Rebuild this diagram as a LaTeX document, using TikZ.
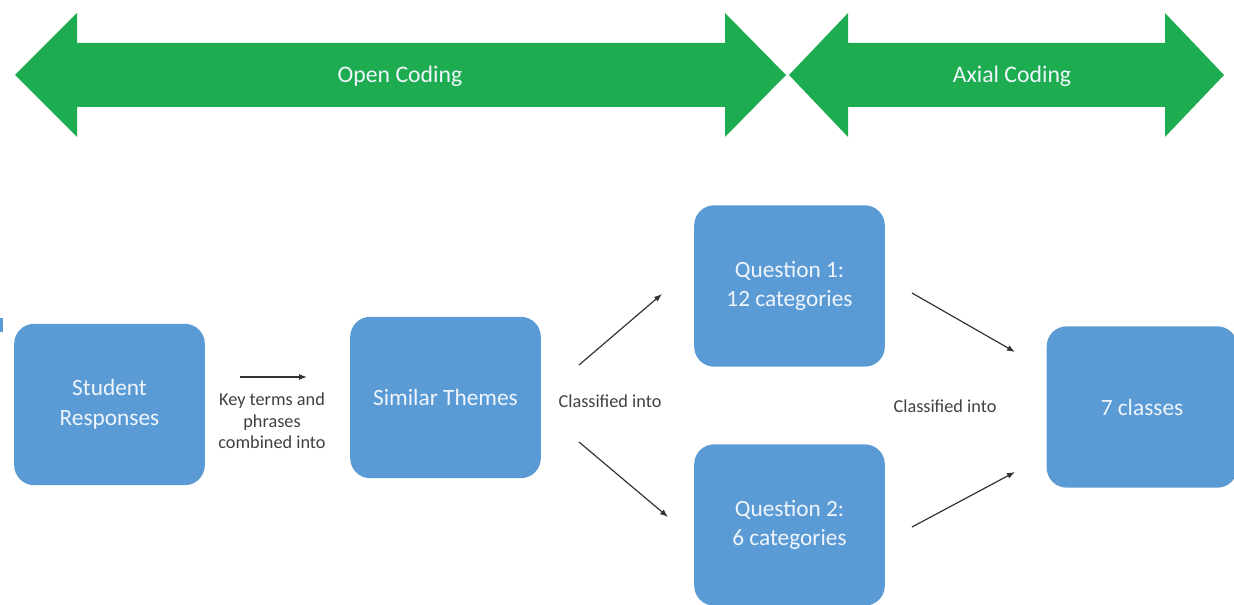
\documentclass[tikz,border=0pt]{standalone}
\usepackage{fontspec}
\setmainfont{Carlito}
\usetikzlibrary{arrows.meta}
\definecolor{codegreen}{RGB}{29,173,80}
\definecolor{boxblue}{RGB}{91,155,213}
\definecolor{labelgray}{RGB}{64,64,64}
\definecolor{boxtext}{RGB}{240,245,252}
\begin{document}
\begin{tikzpicture}[x=0.75pt,y=-0.75pt,
  stagebox/.style={fill=boxblue, draw=none, rounded corners=15pt,
    minimum width=143pt, minimum height=121pt, text=boxtext,
    font=\fontsize{17.5}{22}\selectfont, align=center, inner sep=0pt},
  steplabel/.style={text=labelgray, font=\fontsize{13.7}{16}\selectfont, align=center},
  phaselabel/.style={text=boxtext, font=\fontsize{17.8}{20}\selectfont},
  flow/.style={draw=black!80, line width=0.9pt, -{Latex[length=6pt,width=4.5pt]}}]
\useasboundingbox (0,0) rectangle (1234,605);

% coding phases
\fill[codegreen] (15,75) -- (77,13) -- (77,43) -- (725,43) -- (725,13) -- (786,75)
  -- (725,137) -- (725,107) -- (77,107) -- (77,137) -- cycle;
\fill[codegreen] (789,75) -- (848,13) -- (848,43) -- (1165,43) -- (1165,13) -- (1224,75)
  -- (1165,137) -- (1165,107) -- (848,107) -- (848,137) -- cycle;
\node[phaselabel] (open) at (400,76) {Open Coding};
\node[phaselabel] (axial) at (1012,76) {Axial Coding};

% left edge mark
\fill[boxblue] (0,318) rectangle (3,332);

% stages
\node[stagebox] (sr) at (109.5,404.5) {\strut Student\\\strut Responses};
\node[stagebox] (st) at (445.5,397.5) {Similar Themes};
\node[stagebox] (q1) at (789.5,286) {\strut Question 1:\\\strut 12 categories};
\node[stagebox] (q2) at (789.5,525) {\strut Question 2:\\\strut 6 categories};
\node[stagebox] (cl) at (1142,407) {7 classes};

% labels
\node[steplabel] (kt) at (272,421) {Key terms and\\phrases\\combined into};
\node[steplabel] (ci1) at (610,401) {Classified into};
\node[steplabel] (ci2) at (945,406) {Classified into};

% connectors
\coordinate (a1s) at (240,377); \coordinate (a1e) at (307,377);
\coordinate (a2s) at (579,365); \coordinate (a2e) at (662,294);
\coordinate (a3s) at (579,442); \coordinate (a3e) at (668,517);
\coordinate (a4s) at (912,293); \coordinate (a4e) at (1015,352);
\coordinate (a5s) at (912,527); \coordinate (a5e) at (1015,472);
\draw[flow] (a1s) -- (a1e);
\draw[flow] (a2s) -- (a2e);
\draw[flow] (a3s) -- (a3e);
\draw[flow] (a4s) -- (a4e);
\draw[flow] (a5s) -- (a5e);
\end{tikzpicture}
\end{document}
